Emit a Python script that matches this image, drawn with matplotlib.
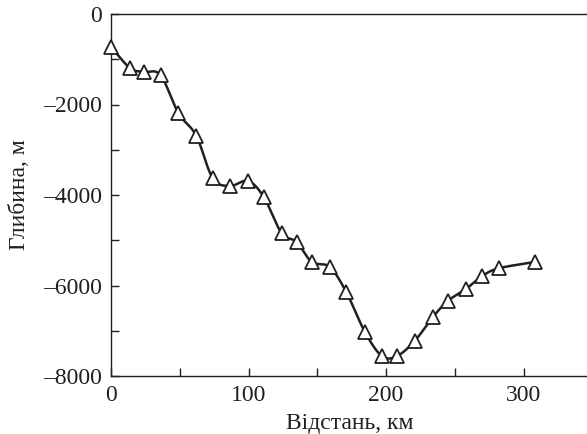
import numpy as np
import matplotlib
matplotlib.use("Agg")
import matplotlib.pyplot as plt
from matplotlib.ticker import MultipleLocator

distance_km = [0, 14, 24, 36, 49, 62, 74, 86.5, 99.6, 111, 124, 135, 146, 159, 171,
               184.7, 197, 208, 221, 234, 245, 258, 270, 282, 308]
depth_m = [-730, -1200, -1280, -1350, -2190, -2690, -3630, -3800, -3690, -4040,
           -4840, -5040, -5480, -5590, -6140, -7030, -7560, -7560, -7220, -6700,
           -6340, -6080, -5790, -5620, -5480]

x_label = "Відстань, км"
y_label = "Глибина, м"

plt.rcParams['font.family'] = ['Liberation Serif', 'DejaVu Serif']


def catmull_rom(x, y, n=20):
    x = np.asarray(x, float)
    y = np.asarray(y, float)
    px = np.concatenate([[2 * x[0] - x[1]], x, [2 * x[-1] - x[-2]]])
    py = np.concatenate([[2 * y[0] - y[1]], y, [2 * y[-1] - y[-2]]])
    ox, oy = [], []
    t = np.linspace(0, 1, n, endpoint=False)
    for i in range(1, len(px) - 2):
        for P, out in ((px, ox), (py, oy)):
            p0, p1, p2, p3 = P[i - 1], P[i], P[i + 1], P[i + 2]
            v = 0.5 * ((2 * p1) + (-p0 + p2) * t + (2 * p0 - 5 * p1 + 4 * p2 - p3) * t ** 2
                       + (-p0 + 3 * p1 - 3 * p2 + p3) * t ** 3)
            out.extend(v)
    ox.append(x[-1])
    oy.append(y[-1])
    return np.array(ox), np.array(oy)


fig = plt.figure(figsize=(5.87, 4.34), dpi=100)
ax = fig.add_axes([111 / 587, 1 - 376 / 434, 1 - 111 / 587 + 0.002, (376 - 14) / 434])

sx, sy = catmull_rom(distance_km, depth_m)
ax.plot(sx, sy, color='#231f20', lw=1.8, zorder=2, clip_on=False)
ax.plot(distance_km, depth_m, ls='none', marker='^', ms=10, mfc='white',
        mec='#231f20', mew=1.3, zorder=3, clip_on=False)

ax.set_xlim(0, 347)
ax.set_ylim(-8000, 0)
ax.xaxis.set_major_locator(MultipleLocator(100))
ax.xaxis.set_minor_locator(MultipleLocator(50))
ax.yaxis.set_major_locator(MultipleLocator(2000))
ax.yaxis.set_minor_locator(MultipleLocator(1000))
ax.tick_params(which='both', direction='in', length=6, width=1.0, labelsize=17,
               color='#231f20', labelcolor='#231f20', pad=6.5)
ax.yaxis.set_major_formatter(matplotlib.ticker.FuncFormatter(
    lambda v, p: f"{int(v)}".replace('-', '\u2013')))
for s in ax.spines.values():
    s.set_linewidth(1.0)
    s.set_color('#231f20')
ax.spines['right'].set_visible(False)

ax.set_xlabel(x_label, fontsize=17, color='#231f20', labelpad=5)
ax.set_ylabel(y_label, fontsize=17, color='#231f20', labelpad=9)

fig.savefig("out.png", dpi=100)
